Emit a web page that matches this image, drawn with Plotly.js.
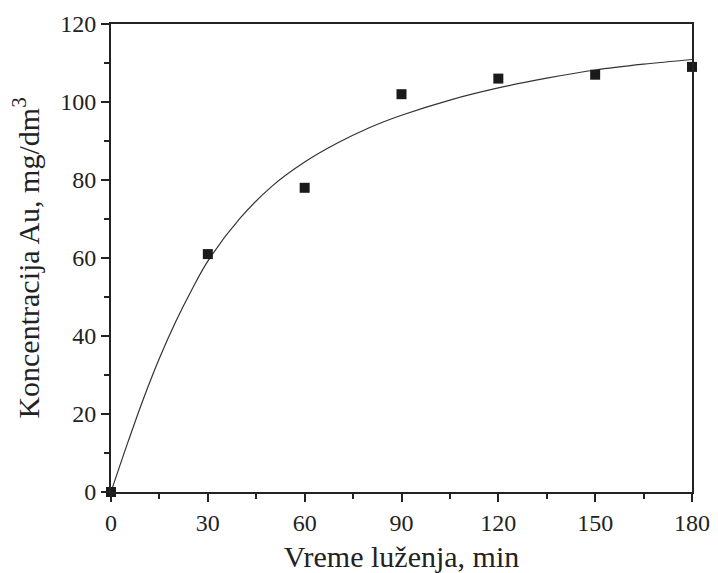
<!DOCTYPE html>
<html>
<head>
<meta charset="utf-8">
<script src="https://cdn.plot.ly/plotly-3.0.1.min.js"></script>
<style>html,body{margin:0;padding:0;background:#fff;}#chart{width:718px;height:573px;}</style>
</head>
<body>
<div id="chart"></div>
<script>
// Measured points
const timeMin = [0, 30, 60, 90, 120, 150, 180];
const concAu = [0, 61, 78, 102, 106, 107, 109];

// Fitted curve
const fitTime = [0, 5, 10, 15, 20, 25, 30, 40, 50, 60, 70, 80, 90, 105, 120, 135, 150, 165, 180];
const fitConc = [0, 12.2, 23.8, 34.3, 43.6, 51.8, 59.2, 70.2, 78.5, 84.6, 89.4, 93.4, 96.6, 100.5, 103.6, 106.1, 108.2, 109.7, 110.9];

const xTicks = [0, 30, 60, 90, 120, 150, 180];
const yTicks = [0, 20, 40, 60, 80, 100, 120];

const xTitle = 'Vreme luženja, min';
const yTitle = 'Koncentracija Au, mg/dm<sup>3</sup>';

const ink = '#222222';
const fontFam = '"Liberation Serif", "DejaVu Serif", serif';

const traces = [
  {
    x: fitTime, y: fitConc, mode: 'lines', type: 'scatter',
    line: {color: '#333333', width: 1.2, shape: 'spline', smoothing: 1},
    hoverinfo: 'skip', showlegend: false
  },
  {
    x: timeMin, y: concAu, mode: 'markers', type: 'scatter',
    marker: {symbol: 'square', size: 10, color: '#1a1a1a'},
    cliponaxis: false, showlegend: false
  }
];

const axisCommon = {
  showgrid: false, zeroline: false,
  showline: true, linecolor: ink, linewidth: 2, mirror: true,
  ticks: 'outside', ticklen: 8, tickwidth: 2, tickcolor: ink,
  tickfont: {family: fontFam, size: 24, color: ink},
  automargin: false
};

const layout = {
  width: 718, height: 573,
  margin: {l: 111, r: 26, t: 24, b: 81},
  paper_bgcolor: '#ffffff', plot_bgcolor: '#ffffff',
  font: {family: fontFam, color: ink},
  xaxis: Object.assign({}, axisCommon, {
    range: [0, 180], tickmode: 'array', tickvals: xTicks, ticktext: xTicks.map(String),
    minor: {tickvals: [15, 45, 75, 105, 135, 165], ticks: 'outside', ticklen: 5, tickwidth: 2, tickcolor: ink},
    title: {text: xTitle, font: {family: fontFam, size: 30, color: ink}, standoff: 12}
  }),
  yaxis: Object.assign({}, axisCommon, {
    range: [0, 120], tickmode: 'array', tickvals: yTicks, ticktext: yTicks.map(String),
    minor: {tickvals: [10, 30, 50, 70, 90, 110], ticks: 'outside', ticklen: 5, tickwidth: 2, tickcolor: ink},
    title: {text: yTitle, font: {family: fontFam, size: 30, color: ink}, standoff: 12}
  })
};

Plotly.newPlot('chart', traces, layout, {staticPlot: true, displayModeBar: false});
</script>
</body>
</html>
